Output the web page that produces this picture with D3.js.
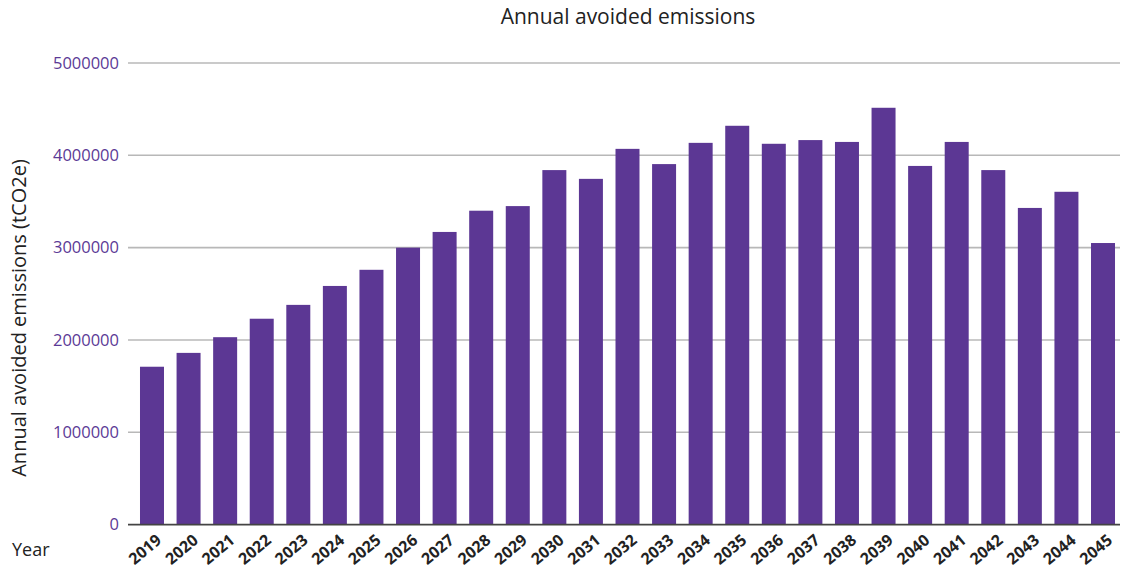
<!DOCTYPE html>
<html><head><meta charset="utf-8">
<script src="https://cdn.jsdelivr.net/npm/d3@7"></script>
<style>body{margin:0;background:#fff}svg{display:block}</style>
</head><body>
<svg id="c" width="1122" height="572"></svg>
<script>
const years = ["2019","2020","2021","2022","2023","2024","2025","2026","2027","2028","2029","2030","2031","2032","2033","2034","2035","2036","2037","2038","2039","2040","2041","2042","2043","2044","2045"];
const emissions = [1710000,1860000,2030000,2230000,2380000,2585000,2760000,3000000,3170000,3400000,3450000,3840000,3745000,4070000,3905000,4135000,4320000,4125000,4165000,4145000,4515000,3885000,4145000,3840000,3430000,3605000,3050000];
const yTicks = [0,1000000,2000000,3000000,4000000,5000000];

const svg = d3.select("#c");
const font = "'Open Sans', 'Noto Sans', sans-serif";
const y = d3.scaleLinear().domain([0,5000000]).range([524.6,63]);
const x = d3.scaleBand().domain(years).range([133.7,1121.3]).paddingInner(0.344).paddingOuter(0.172);

// gridlines
svg.append("g").selectAll("line").data(yTicks.filter(d=>d>0)).join("line")
  .attr("x1",128).attr("x2",1120).attr("y1",d=>y(d)).attr("y2",d=>y(d))
  .attr("stroke","#b8b8b8").attr("stroke-width",1.6);

// bars
svg.append("g").selectAll("rect").data(years).join("rect")
  .attr("x",d=>x(d)).attr("width",x.bandwidth())
  .attr("y",(d,i)=>y(emissions[i])).attr("height",(d,i)=>y(0)-y(emissions[i]))
  .attr("fill","#5c3794");

// baseline
svg.append("line").attr("x1",128).attr("x2",1120).attr("y1",y(0)).attr("y2",y(0))
  .attr("stroke","#444").attr("stroke-width",1.6);

// y axis
const ya = svg.append("g").attr("transform","translate(119,0)")
  .call(d3.axisLeft(y).tickValues(yTicks).tickFormat(d3.format("d")).tickSize(0).tickPadding(0));
ya.select(".domain").remove();
ya.selectAll("text").attr("fill","#5b3a96").style("font-family",font).style("font-size","16.5px");

// x axis
const xa = svg.append("g").attr("transform",`translate(0,${y(0)})`)
  .call(d3.axisBottom(x).tickSize(0));
xa.select(".domain").remove();
xa.selectAll(".tick").attr("transform",d=>`translate(${x(d)+x.bandwidth()/2+7},13)`);
xa.selectAll("text")
  .attr("fill","#222").style("font-family",font).style("font-size","16px").style("font-weight","bold")
  .attr("text-anchor","end").attr("x",0).attr("y",0).attr("dy","0.35em")
  .attr("transform","rotate(-40)");

// title
svg.append("text").attr("x",628).attr("y",24).attr("text-anchor","middle")
  .style("font-family",font).style("font-size","21px").attr("fill","#222").text("Annual avoided emissions");
// y label
svg.append("text").attr("transform","translate(26,318) rotate(-90)").attr("text-anchor","middle")
  .style("font-family",font).style("font-size","20px").attr("fill","#222").text("Annual avoided emissions (tCO2e)");
// x label
svg.append("text").attr("x",12).attr("y",556)
  .style("font-family",font).style("font-size","18px").attr("fill","#222").text("Year");
</script>
</body></html>
